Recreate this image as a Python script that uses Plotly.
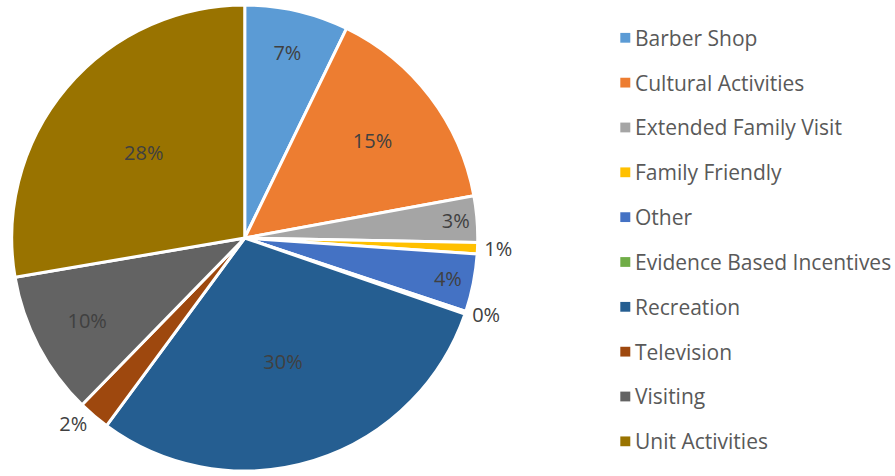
import plotly.graph_objects as go

categories = ["Barber Shop", "Cultural Activities", "Extended Family Visit", "Family Friendly",
              "Other", "Evidence Based Incentives", "Recreation", "Television", "Visiting",
              "Unit Activities"]
values = [7.2, 14.9, 3.2, 0.8, 4.0, 0.2, 29.8, 2.2, 10.0, 27.7]
colors = ["#5B9BD5", "#ED7D31", "#A5A5A5", "#FFC000", "#4472C4", "#70AD47",
          "#255E91", "#9E480E", "#636363", "#997300"]
text_pos = ["inside", "inside", "inside", "outside", "inside", "outside",
            "inside", "outside", "inside", "inside"]

W, H = 895, 476
FONT = "Open Sans, sans-serif"

fig = go.Figure(go.Pie(
    labels=categories,
    values=values,
    sort=False,
    direction="clockwise",
    rotation=0,
    marker=dict(colors=colors, line=dict(color="white", width=3)),
    texttemplate="%{percent:.0%}",
    textposition=text_pos,
    insidetextorientation="horizontal",
    textfont=dict(family=FONT, size=20, color="#404040"),
    domain=dict(x=[7 / W, 481 / W], y=[0, 1]),
    showlegend=False,
    hoverinfo="label+percent",
))

# legend drawn as layout items
legend_x0 = 620 / W
legend_y_top = 33.5
legend_gap = 45.8
shapes = []
annotations = []
for i, (name, col) in enumerate(zip(categories, colors)):
    yc = legend_y_top + i * legend_gap
    y_paper = 1 - yc / H
    shapes.append(dict(type="rect", xref="paper", yref="paper",
                       x0=legend_x0, x1=legend_x0 + 10 / W,
                       y0=y_paper - 5 / H, y1=y_paper + 5 / H,
                       fillcolor=col, line=dict(width=0)))
    annotations.append(dict(text=name, xref="paper", yref="paper",
                            x=633 / W, y=y_paper, xanchor="left", yanchor="middle",
                            showarrow=False,
                            font=dict(family=FONT, size=21, color="#595959")))

fig.update_layout(
    width=W, height=H,
    margin=dict(l=0, r=0, t=0, b=0),
    paper_bgcolor="white",
    plot_bgcolor="white",
    uniformtext=dict(minsize=20, mode="show"),
    shapes=shapes,
    annotations=annotations,
)

fig.write_html("out.html", post_script="document.body.style.margin='0';",
               config={"displayModeBar": False})
